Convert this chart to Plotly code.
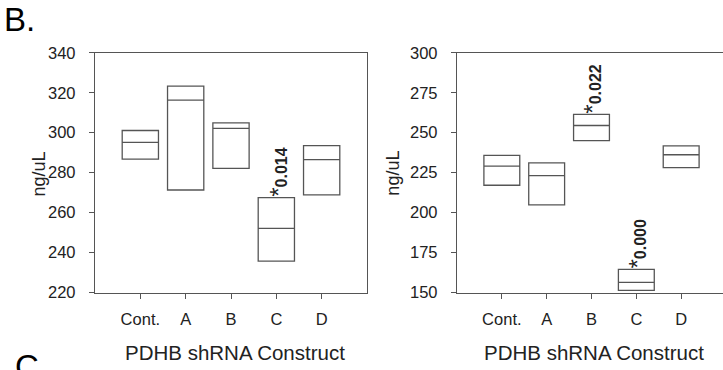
import plotly.graph_objects as go

W, H = 723, 370

# Category labels shared by both panels
constructs = ["Cont.", "A", "B", "C", "D"]
positions = [1, 2, 3, 4, 5]

# Left panel: box statistics (ng/uL)
left_q1 = [286.8, 271.3, 282.1, 235.7, 268.9]
left_median = [295.1, 316.3, 302.2, 252.1, 286.5]
left_q3 = [301.1, 323.3, 304.9, 267.5, 293.5]

# Right panel: box statistics (ng/uL)
right_q1 = [217.1, 204.8, 245.0, 151.3, 228.1]
right_median = [229.1, 223.1, 254.5, 156.3, 236.2]
right_q3 = [235.8, 231.1, 261.5, 164.5, 241.8]

# Significance labels: (panel, category index, p-value text)
sig_marks = [("left", 3, "0.014"), ("right", 2, "0.022"), ("right", 3, "0.000")]

FONT = "Liberation Sans, Arial, sans-serif"
LINE = "#555555"
TEXT = "#222222"


def px_x(v):
    return v / W


def px_y(v):
    return (H - v) / H


fig = go.Figure()


def add_boxes(q1, med, q3, xref, yref):
    fig.add_trace(go.Box(
        x=positions, q1=q1, median=med, q3=q3,
        lowerfence=q1, upperfence=q3,
        width=0.8, whiskerwidth=0, boxpoints=False,
        fillcolor="rgba(0,0,0,0)",
        line=dict(color=LINE, width=1.3),
        xaxis=xref, yaxis=yref, showlegend=False, hoverinfo="skip",
    ))


add_boxes(left_q1, left_median, left_q3, "x", "y")
add_boxes(right_q1, right_median, right_q3, "x2", "y2")

axis_common = dict(
    showgrid=False, zeroline=False, showline=True, linecolor=LINE, linewidth=1.3,
    ticks="outside", ticklen=5, tickcolor=LINE, tickwidth=1,
    tickfont=dict(family=FONT, size=16.5, color=TEXT),
)

# Right panel extends slightly past the page edge, so its range is trimmed to match
r_left, r_right_full = 457, 726
r_range_max = 6 * (W - r_left) / (r_right_full - r_left)

fig.update_layout(
    width=W, height=H,
    margin=dict(l=0, r=0, t=0, b=0),
    paper_bgcolor="white", plot_bgcolor="white",
    xaxis=dict(axis_common, domain=[px_x(95), px_x(367)], range=[0, 6],
               tickvals=positions, ticktext=constructs, mirror=True,
               ticklabelstandoff=7, anchor="y"),
    yaxis=dict(axis_common, domain=[px_y(298), px_y(46)], range=[220, 340],
               tickvals=list(range(220, 341, 20)), mirror=True,
               ticklabelstandoff=10, anchor="x"),
    xaxis2=dict(axis_common, domain=[px_x(r_left), 1], range=[0, r_range_max],
                tickvals=positions, ticktext=constructs, mirror=True,
                ticklabelstandoff=7, anchor="y2"),
    yaxis2=dict(axis_common, domain=[px_y(298), px_y(46)], range=[150, 300],
                tickvals=list(range(150, 301, 25)), mirror=False,
                ticklabelstandoff=10, anchor="x2"),
)

annotations = []

# Axis titles
for cx in (235, 594):
    annotations.append(dict(
        text="PDHB shRNA Construct", xref="paper", yref="paper",
        x=px_x(cx), y=px_y(361), xanchor="center", yanchor="middle",
        showarrow=False, font=dict(family=FONT, size=20.5, color=TEXT)))
for cx, cy in ((39, 174), (393, 172)):
    annotations.append(dict(
        text="ng/uL", xref="paper", yref="paper", textangle=-90,
        x=px_x(cx), y=px_y(cy), xanchor="center", yanchor="middle",
        showarrow=False, font=dict(family=FONT, size=18, color=TEXT)))

# Significance labels above the boxes: a large asterisk followed by the p-value
for panel, idx, label in sig_marks:
    if panel == "left":
        xr, yr, top = "x", "y", left_q3[idx]
    else:
        xr, yr, top = "x2", "y2", right_q3[idx]
    annotations.append(dict(
        text="<span style='font-size:24px'>*</span><b>" + label + "</b>",
        xref=xr, yref=yr, textangle=-90,
        x=positions[idx] + 0.03, y=top, xanchor="center", yanchor="bottom",
        showarrow=False, borderpad=0,
        font=dict(family=FONT, size=16, color=TEXT)))

# Panel letters
annotations.append(dict(
    text="B.", xref="paper", yref="paper", x=px_x(3), y=px_y(11),
    xanchor="left", yanchor="middle", showarrow=False, borderpad=0,
    font=dict(family=FONT, size=33, color="black")))
annotations.append(dict(
    text="C", xref="paper", yref="paper", x=px_x(13), y=px_y(376),
    xanchor="left", yanchor="middle", showarrow=False,
    font=dict(family=FONT, size=33, color="black")))

fig.update_layout(annotations=annotations)

fig.write_html("out.html")
